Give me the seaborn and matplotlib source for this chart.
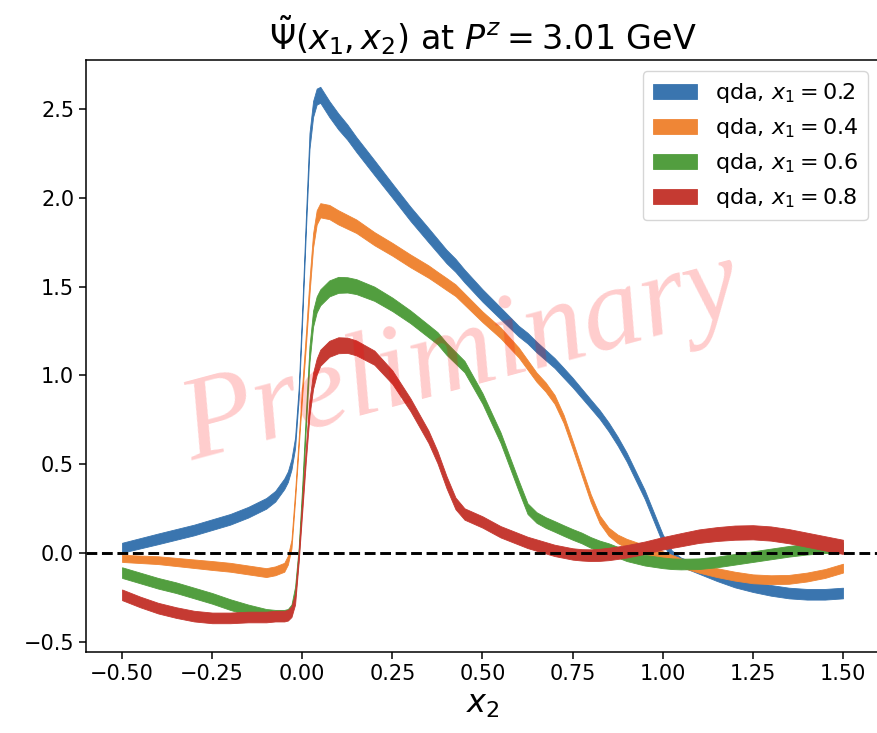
import numpy as np
import matplotlib
matplotlib.use("Agg")
import matplotlib.pyplot as plt
import seaborn as sns

# ---- data ----
x2 = [-0.5, -0.45, -0.4, -0.35, -0.3, -0.25, -0.2, -0.15, -0.1, -0.075, -0.05, -0.04, -0.03, -0.02, -0.01,
      0.0, 0.01, 0.02, 0.03, 0.04, 0.05,
      0.075, 0.1, 0.125, 0.15,
      0.2, 0.25, 0.3, 0.35,
      0.375, 0.4, 0.425, 0.45,
      0.5, 0.55, 0.6, 0.625, 0.65, 0.675, 0.7, 0.725, 0.75,
      0.775, 0.8, 0.825, 0.85, 0.875, 0.9, 0.95, 1.0,
      1.025, 1.05, 1.1, 1.15, 1.2, 1.25, 1.3, 1.35, 1.4, 1.45, 1.5]

blue_c = [0.03, 0.055, 0.08, 0.105, 0.13, 0.16, 0.19, 0.23, 0.28, 0.32, 0.39, 0.43, 0.50, 0.62, 0.90,
          1.35, 1.85, 2.32, 2.50, 2.57, 2.58,
          2.50, 2.43, 2.37, 2.30,
          2.17, 2.04, 1.91, 1.79,
          1.73, 1.67, 1.62, 1.56,
          1.45, 1.35, 1.25, 1.21, 1.16, 1.115, 1.07, 1.015, 0.96,
          0.90, 0.84, 0.78, 0.71, 0.63, 0.54, 0.33, 0.08,
          -0.01, -0.05, -0.09, -0.13, -0.165, -0.19, -0.21, -0.225, -0.232, -0.232, -0.225]
blue_e = ([0.028, 0.029] + [0.03] * 13
          + [0.035, 0.04, 0.045, 0.045, 0.045, 0.045]
          + [0.045, 0.045, 0.043, 0.042]
          + [0.042, 0.04, 0.04, 0.04]
          + [0.039, 0.038, 0.037, 0.036]
          + [0.035, 0.033, 0.03, 0.03, 0.03, 0.029, 0.028, 0.028, 0.027]
          + [0.026] + [0.025] * 7
          + [0.025, 0.025, 0.026, 0.027, 0.028, 0.029, 0.03, 0.03, 0.03, 0.03, 0.03])

orange_c = [-0.03, -0.035, -0.04, -0.05, -0.06, -0.07, -0.08, -0.095, -0.11, -0.10, -0.08, -0.04, 0.05, 0.32, 0.62,
            0.92, 1.20, 1.50, 1.76, 1.89, 1.93,
            1.92, 1.89, 1.865, 1.84,
            1.77, 1.71, 1.645, 1.585,
            1.55, 1.515, 1.48, 1.43,
            1.33, 1.24, 1.13, 1.06, 0.99, 0.935, 0.865, 0.755, 0.61,
            0.46, 0.31, 0.19, 0.12, 0.08, 0.055, 0.02, -0.015,
            -0.035, -0.055, -0.085, -0.11, -0.13, -0.145, -0.15, -0.148, -0.135, -0.115, -0.085]
orange_e = ([0.02, 0.021, 0.022, 0.023, 0.024] + [0.025] * 10
            + [0.03, 0.035, 0.04, 0.04, 0.04, 0.04]
            + [0.04, 0.04, 0.039, 0.038]
            + [0.037, 0.036, 0.036, 0.035]
            + [0.034, 0.034, 0.033, 0.032]
            + [0.03, 0.03, 0.028, 0.027, 0.026, 0.026, 0.025, 0.023, 0.022]
            + [0.022, 0.022, 0.022, 0.023, 0.024, 0.025, 0.025, 0.025]
            + [0.025] * 11)

green_c = [-0.11, -0.14, -0.17, -0.195, -0.225, -0.255, -0.29, -0.32, -0.345, -0.35, -0.35, -0.345, -0.32, -0.22, 0.0,
           0.35, 0.75, 1.12, 1.32, 1.40, 1.44,
           1.49, 1.51, 1.51, 1.50,
           1.46, 1.40, 1.33, 1.25,
           1.21, 1.15, 1.10, 1.05,
           0.87, 0.65, 0.38, 0.25, 0.20, 0.172, 0.15, 0.127, 0.105,
           0.085, 0.06, 0.04, 0.025, 0.005, -0.015, -0.04, -0.055,
           -0.06, -0.062, -0.06, -0.05, -0.035, -0.02, -0.005, 0.01, 0.022, 0.03, 0.03]
green_e = ([0.03] * 15
           + [0.035, 0.04, 0.045, 0.045, 0.045, 0.045]
           + [0.045, 0.045, 0.043, 0.042]
           + [0.04, 0.038, 0.036, 0.035]
           + [0.034, 0.034, 0.033, 0.032]
           + [0.03] * 9
           + [0.03] * 8
           + [0.03] * 11)

red_c = [-0.235, -0.275, -0.31, -0.335, -0.355, -0.365, -0.365, -0.36, -0.36, -0.355, -0.355, -0.35, -0.33, -0.26, -0.02,
         0.27, 0.56, 0.82, 0.97, 1.05, 1.10,
         1.15, 1.17, 1.17, 1.155,
         1.10, 0.99, 0.835, 0.655,
         0.54, 0.40, 0.28, 0.22,
         0.175, 0.12, 0.08, 0.06, 0.045, 0.03, 0.015, 0.005, -0.005,
         -0.01, -0.012, -0.01, -0.005, 0.002, 0.01, 0.03, 0.055,
         0.065, 0.075, 0.095, 0.107, 0.115, 0.117, 0.11, 0.095, 0.075, 0.055, 0.035]
red_e = ([0.03] * 15
         + [0.035, 0.04, 0.045, 0.045, 0.045, 0.045]
         + [0.045, 0.045, 0.043, 0.042]
         + [0.04, 0.038, 0.036, 0.035]
         + [0.034, 0.034, 0.033, 0.032]
         + [0.032] * 9
         + [0.032, 0.033, 0.034, 0.035, 0.035, 0.035, 0.035, 0.035]
         + [0.036, 0.037, 0.038, 0.039] + [0.04] * 7)

labels = [r"qda, $x_1 = 0.2$", r"qda, $x_1 = 0.4$", r"qda, $x_1 = 0.6$", r"qda, $x_1 = 0.8$"]
colors = ["#3a75af", "#ef8636", "#529e3f", "#c53a32"]
title = r"$\tilde{\Psi}(x_1, x_2)$ at $P^z = 3.01$ GeV"

# ---- plot ----
sns.set_theme(style="ticks")
plt.rcParams.update({
    "font.family": ["DejaVu Sans"],
    "mathtext.fontset": "dejavusans",
    "text.color": "black",
    "axes.labelcolor": "black",
    "axes.titlecolor": "black",
    "axes.linewidth": 1.1,
    "xtick.major.size": 5,
    "ytick.major.size": 5,
    "xtick.major.width": 1.1,
    "ytick.major.width": 1.1,
    "xtick.color": "black",
    "ytick.color": "black",
    "axes.edgecolor": "black",
})

fig = plt.figure(figsize=(8.77, 7.33), dpi=100)
ax = fig.add_axes([86 / 877, 1 - 652 / 733, (879 - 86) / 877, (652 - 60) / 733])

x = np.array(x2)
series = [(blue_c, blue_e), (orange_c, orange_e), (green_c, green_e), (red_c, red_e)]
for (c, e), col, lab in zip(series, colors, labels):
    c = np.array(c)
    e = np.array(e)
    ax.fill_between(x, c - e, c + e, color=col, alpha=1.0, linewidth=0.6, edgecolor=col, label=lab)

ax.axhline(0, color="black", linestyle="--", linewidth=2.1, zorder=3)

ax.set_xlim(-0.6, 1.6)
ax.set_ylim(-0.557, 2.776)
ax.set_xticks([-0.5, -0.25, 0.0, 0.25, 0.5, 0.75, 1.0, 1.25, 1.5])
ax.set_yticks([-0.5, 0.0, 0.5, 1.0, 1.5, 2.0, 2.5])
ax.tick_params(labelsize=15)
ax.set_xlabel(r"$x_2$", fontsize=23)
ax.set_title(title, fontsize=24, pad=8)

ax.legend(loc="upper right", fontsize=16, frameon=True, handlelength=2.0,
          handletextpad=0.8, borderpad=0.45, labelspacing=0.5)

ax.text(0.474, 0.495, "Preliminary", transform=ax.transAxes, ha="center", va="center",
        rotation=15, fontsize=86, family="Liberation Serif", style="italic",
        color="red", alpha=0.2, zorder=5)

fig.savefig("out.png", dpi=100)
